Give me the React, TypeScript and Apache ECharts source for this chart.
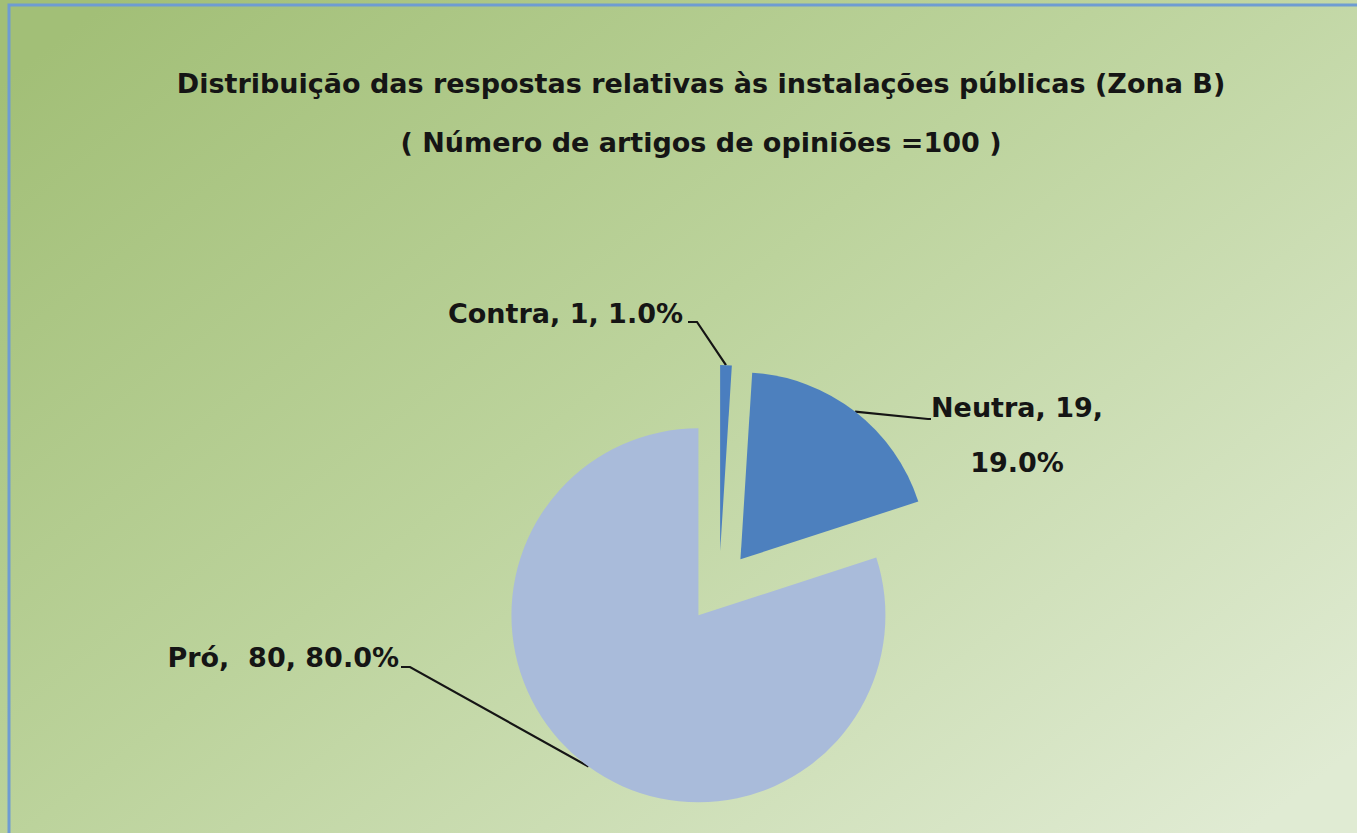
import React, { useEffect, useRef } from "react";
import * as echarts from "echarts";

const titleLines = [
  "Distribuição das respostas relativas às instalações públicas (Zona B)",
  "( Número de artigos de opiniões =100 )",
];
const categories = ["Contra", "Neutra", "Pró"];
const values = [1, 19, 80];
const colors = ["#4A7EBF", "#4D80BE", "#A9BBDA"];
const nameSep = [", ", ", ", ",  "];
const valueSep = [", ", ",\n", ", "];

export default function App() {
  const ref = useRef<HTMLDivElement>(null);
  useEffect(() => {
    document.body.style.margin = "0";
    const chart = echarts.init(ref.current!, null, { renderer: "svg" });
    const font = "'DejaVu Sans', sans-serif";
    const cx = 719;
    const cy = 587;
    const explode = 35;
    const total = values.reduce((a, b) => a + b, 0);
    const labelPlaces = [
      { x: 683, y: 313, align: "right", line: [[697, 322], [688, 322]] },
      { x: 1017, y: 435, align: "center", line: [[928, 419], [931, 419]] },
      { x: 399, y: 657, align: "right", line: [[410, 667], [401, 667]] },
    ];
    let acc = 0;
    const series = values.map((v, i) => {
      const mid = ((acc + v / 2) / total) * 2 * Math.PI;
      acc += v;
      const center = [cx + explode * Math.sin(mid), cy - explode * Math.cos(mid)];
      return {
        type: "pie",
        center,
        radius: 187,
        startAngle: 90,
        clockwise: true,
        silent: true,
        avoidLabelOverlap: false,
        emphasis: { disabled: true },
        data: categories.map((c, j) => ({
          name: c,
          value: values[j],
          itemStyle: { color: j === i ? colors[j] : "rgba(0,0,0,0)", borderWidth: 0 },
          label: { show: j === i },
          labelLine: { show: j === i },
        })),
        label: {
          position: "outside",
          fontFamily: font,
          fontSize: 27,
          fontWeight: "bold",
          color: "#151515",
          lineHeight: 55,
          formatter: (p: any) =>
            `${p.name}${nameSep[p.dataIndex]}${p.value}${valueSep[p.dataIndex]}${p.percent.toFixed(1)}%`,
        },
        labelLine: {
          length: 30,
          length2: 10,
          lineStyle: { color: "#151515", width: 2.2 },
        },
        labelLayout: (params: any) => {
          const pl = labelPlaces[params.dataIndex];
          const p0 = params.labelLinePoints ? params.labelLinePoints[0] : pl.line[0];
          return {
            x: pl.x,
            y: pl.y,
            align: pl.align,
            verticalAlign: "middle",
            labelLinePoints: [p0, pl.line[0], pl.line[1]],
          };
        },
      };
    });
    chart.setOption({
      animation: false,
      backgroundColor: {
        type: "linear",
        x: 0,
        y: 0.1,
        x2: 1,
        y2: 0.9,
        colorStops: [
          { offset: 0, color: "#A2BF77" },
          { offset: 0.45, color: "#BCD39C" },
          { offset: 1, color: "#E0EBD3" },
        ],
      },
      graphic: [
        {
          type: "rect",
          shape: { x: 9, y: 5, width: 1420, height: 900 },
          style: { fill: "none", stroke: "#6E9CD2", lineWidth: 3 },
          silent: true,
        },
      ],
      title: {
        text: titleLines[0],
        subtext: titleLines[1],
        left: 696,
        top: 65,
        textAlign: "center",
        itemGap: 32,
        textStyle: {
          fontFamily: font,
          fontSize: 27,
          fontWeight: "bold",
          color: "#151515",
        },
        subtextStyle: {
          fontFamily: font,
          fontSize: 27,
          fontWeight: "bold",
          color: "#151515",
        },
      },
      series,
    });
    return () => chart.dispose();
  }, []);
  return <div ref={ref} style={{ width: 1357, height: 833 }} />;
}
